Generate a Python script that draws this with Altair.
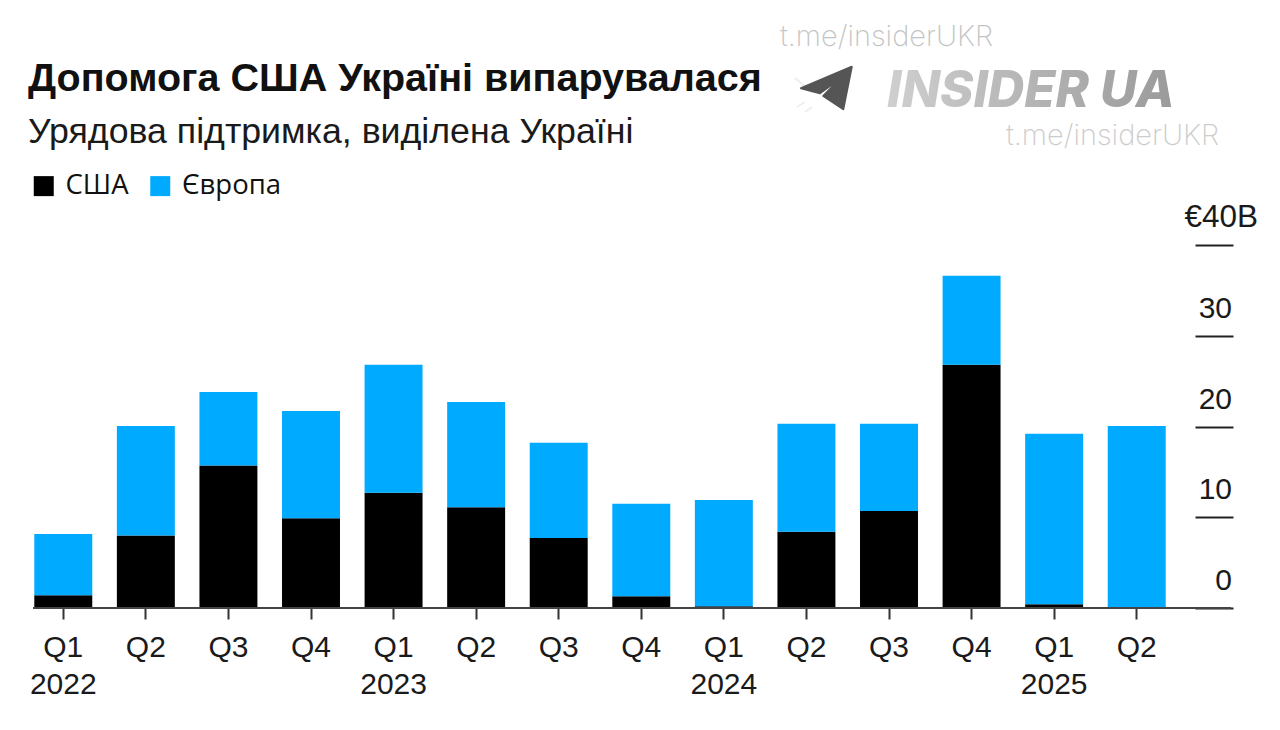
import altair as alt
import pandas as pd

quarters = ["Q1 2022","Q2 2022","Q3 2022","Q4 2022","Q1 2023","Q2 2023","Q3 2023","Q4 2023",
            "Q1 2024","Q2 2024","Q3 2024","Q4 2024","Q1 2025","Q2 2025"]
usa = [1.4,8.0,15.7,9.9,12.7,11.1,7.7,1.3,0.2,8.4,10.7,26.8,0.4,0.0]
europe = [6.75,12.05,8.1,11.8,14.1,11.6,10.5,10.2,11.7,11.9,9.6,9.8,18.8,20.05]
series = ["США","Європа"]
colors = ["#000000","#00AAFF"]
y_ticks = [0,10,20,30,40]
y_labels = ["0","10","20","30","€40B"]

rows = []
for i, q in enumerate(quarters):
    rows.append({"q": q, "s": series[0], "v": usa[i], "o": 0})
    rows.append({"q": q, "s": series[1], "v": europe[i], "o": 1})
df = pd.DataFrame(rows)

FONT = "Liberation Sans"
y_scale = alt.Scale(domain=[0,40], range=[363,0], nice=False)
x_scale = alt.Scale(domain=quarters, range=[0,1156], paddingInner=0.298, paddingOuter=0.149)

bars = alt.Chart(df).mark_bar().encode(
    x=alt.X("q:N", scale=x_scale, sort=quarters, title=None, axis=alt.Axis(
        domain=False, ticks=True, tickSize=11, tickWidth=2, tickColor="#333333", labelAngle=0, labelFont=FONT, labelFontSize=30,
        labelColor="#1a1a1a", labelPadding=28, labelLineHeight=37, labelAlign="center", labelBaseline="middle",
        labelExpr="indexof(datum.value,'Q1')==0 ? split(datum.value,' ') : slice(datum.value,0,2)")),
    y=alt.Y("sum(v):Q", scale=y_scale, title=None, axis=alt.Axis(
        values=y_ticks, orient="right", offset=-38, tickSize=38, tickColor="#222222", tickWidth=2,
        domain=False, labels=False, grid=False)),
    color=alt.Color("s:N", scale=alt.Scale(domain=series, range=colors), legend=alt.Legend(
        title=None, orient="none", legendX=8, legendY=-73, direction="horizontal",
        symbolType="square", symbolSize=400, symbolStrokeWidth=0, symbolOpacity=1,
        labelFont="Open Sans", labelFontSize=27.5, labelColor="#111111", labelOffset=8,
        columnPadding=17.5, symbolOffset=0)),
    order=alt.Order("o:Q", sort="ascending"),
)

baseline = alt.Chart(pd.DataFrame({"v":[0]})).mark_rule(color="#444444", strokeWidth=2).encode(
    y=alt.Y("v:Q", scale=y_scale), x=alt.value(11), x2=alt.value(1209))

ytext = alt.Chart(pd.DataFrame({"v":y_ticks,"t":y_labels,"a":[0,0,0,0,1]})).transform_filter("datum.a==0").mark_text(
    font=FONT, fontSize=30, align="right", baseline="middle", dy=-27, color="#1a1a1a").encode(
    y=alt.Y("v:Q", scale=y_scale), x=alt.value(1210), text="t:N")
ytop = alt.Chart(pd.DataFrame({"v":y_ticks,"t":y_labels,"a":[0,0,0,0,1]})).transform_filter("datum.a==1").mark_text(
    font=FONT, fontSize=31.5, align="right", baseline="middle", dy=-27, color="#1a1a1a").encode(
    y=alt.Y("v:Q", scale=y_scale), x=alt.value(1236), text="t:N")

one = pd.DataFrame({"k":[1]})
grad = alt.LinearGradient(gradient="linear", x1=0, y1=0, x2=1, y2=0, stops=[
    alt.GradientStop(color="#cfcfcf", offset=0), alt.GradientStop(color="#9a9a9a", offset=1)])
brand = alt.Chart(one).mark_text(text="INSIDER UA", font="Inter", fontWeight=800, fontStyle="italic", fontSize=50.5, align="left",
    baseline="alphabetic", color=grad).encode(x=alt.value(865), y=alt.value(-138))
wm1 = alt.Chart(one).mark_text(text="t.me/insiderUKR", font="Inter", fontWeight=200, fontSize=29, align="left",
    baseline="alphabetic", color="#c4c4c4").encode(x=alt.value(758), y=alt.value(-199))
wm2 = alt.Chart(one).mark_text(text="t.me/insiderUKR", font="Inter", fontWeight=200, fontSize=29, align="left",
    baseline="alphabetic", color="#cccccc").encode(x=alt.value(984), y=alt.value(-100))
plane_path = "M1.03,-0.85 L-1,0.01 L-0.24,0.21 L0.59,-0.39 L-0.11,0.32 L0.69,0.85 Z"
plane = alt.Chart(one).mark_point(shape=plane_path, filled=True, size=2500, color="#555555", opacity=1,
    stroke="#555555", strokeWidth=2, strokeJoin="round").encode(x=alt.value(804), y=alt.value(-157))
ray_path = "M-1.24,-0.4 L-0.52,0.2 M-1.16,0.76 L-0.84,0.56 M-0.84,0.96 L-0.56,0.76"
rays = alt.Chart(one).mark_point(shape=ray_path, filled=False, size=2500, color="#eeeeee", opacity=1,
    strokeWidth=2).encode(x=alt.value(804), y=alt.value(-157))

chart = alt.layer(bars, baseline, ytext, ytop, wm1, wm2, brand, rays, plane).properties(
    width=1211, height=363,
    autosize=alt.AutoSizeParams(type="none"),
    padding={"left":14,"top":237,"right":39,"bottom":110},
    title=alt.TitleParams(
        text="Допомога США Україні випарувалася", subtitle="Урядова підтримка, виділена Україні",
        anchor="start", frame="group", dx=6, offset=-128, font=FONT, fontWeight="bold", fontSize=39.5, color="#111111",
        subtitleFont=FONT, subtitleFontSize=35.7, subtitleColor="#1a1a1a", subtitlePadding=16),
).configure_view(stroke=None)

chart.save("out.html", embed_options={"renderer":"svg","actions":False})
